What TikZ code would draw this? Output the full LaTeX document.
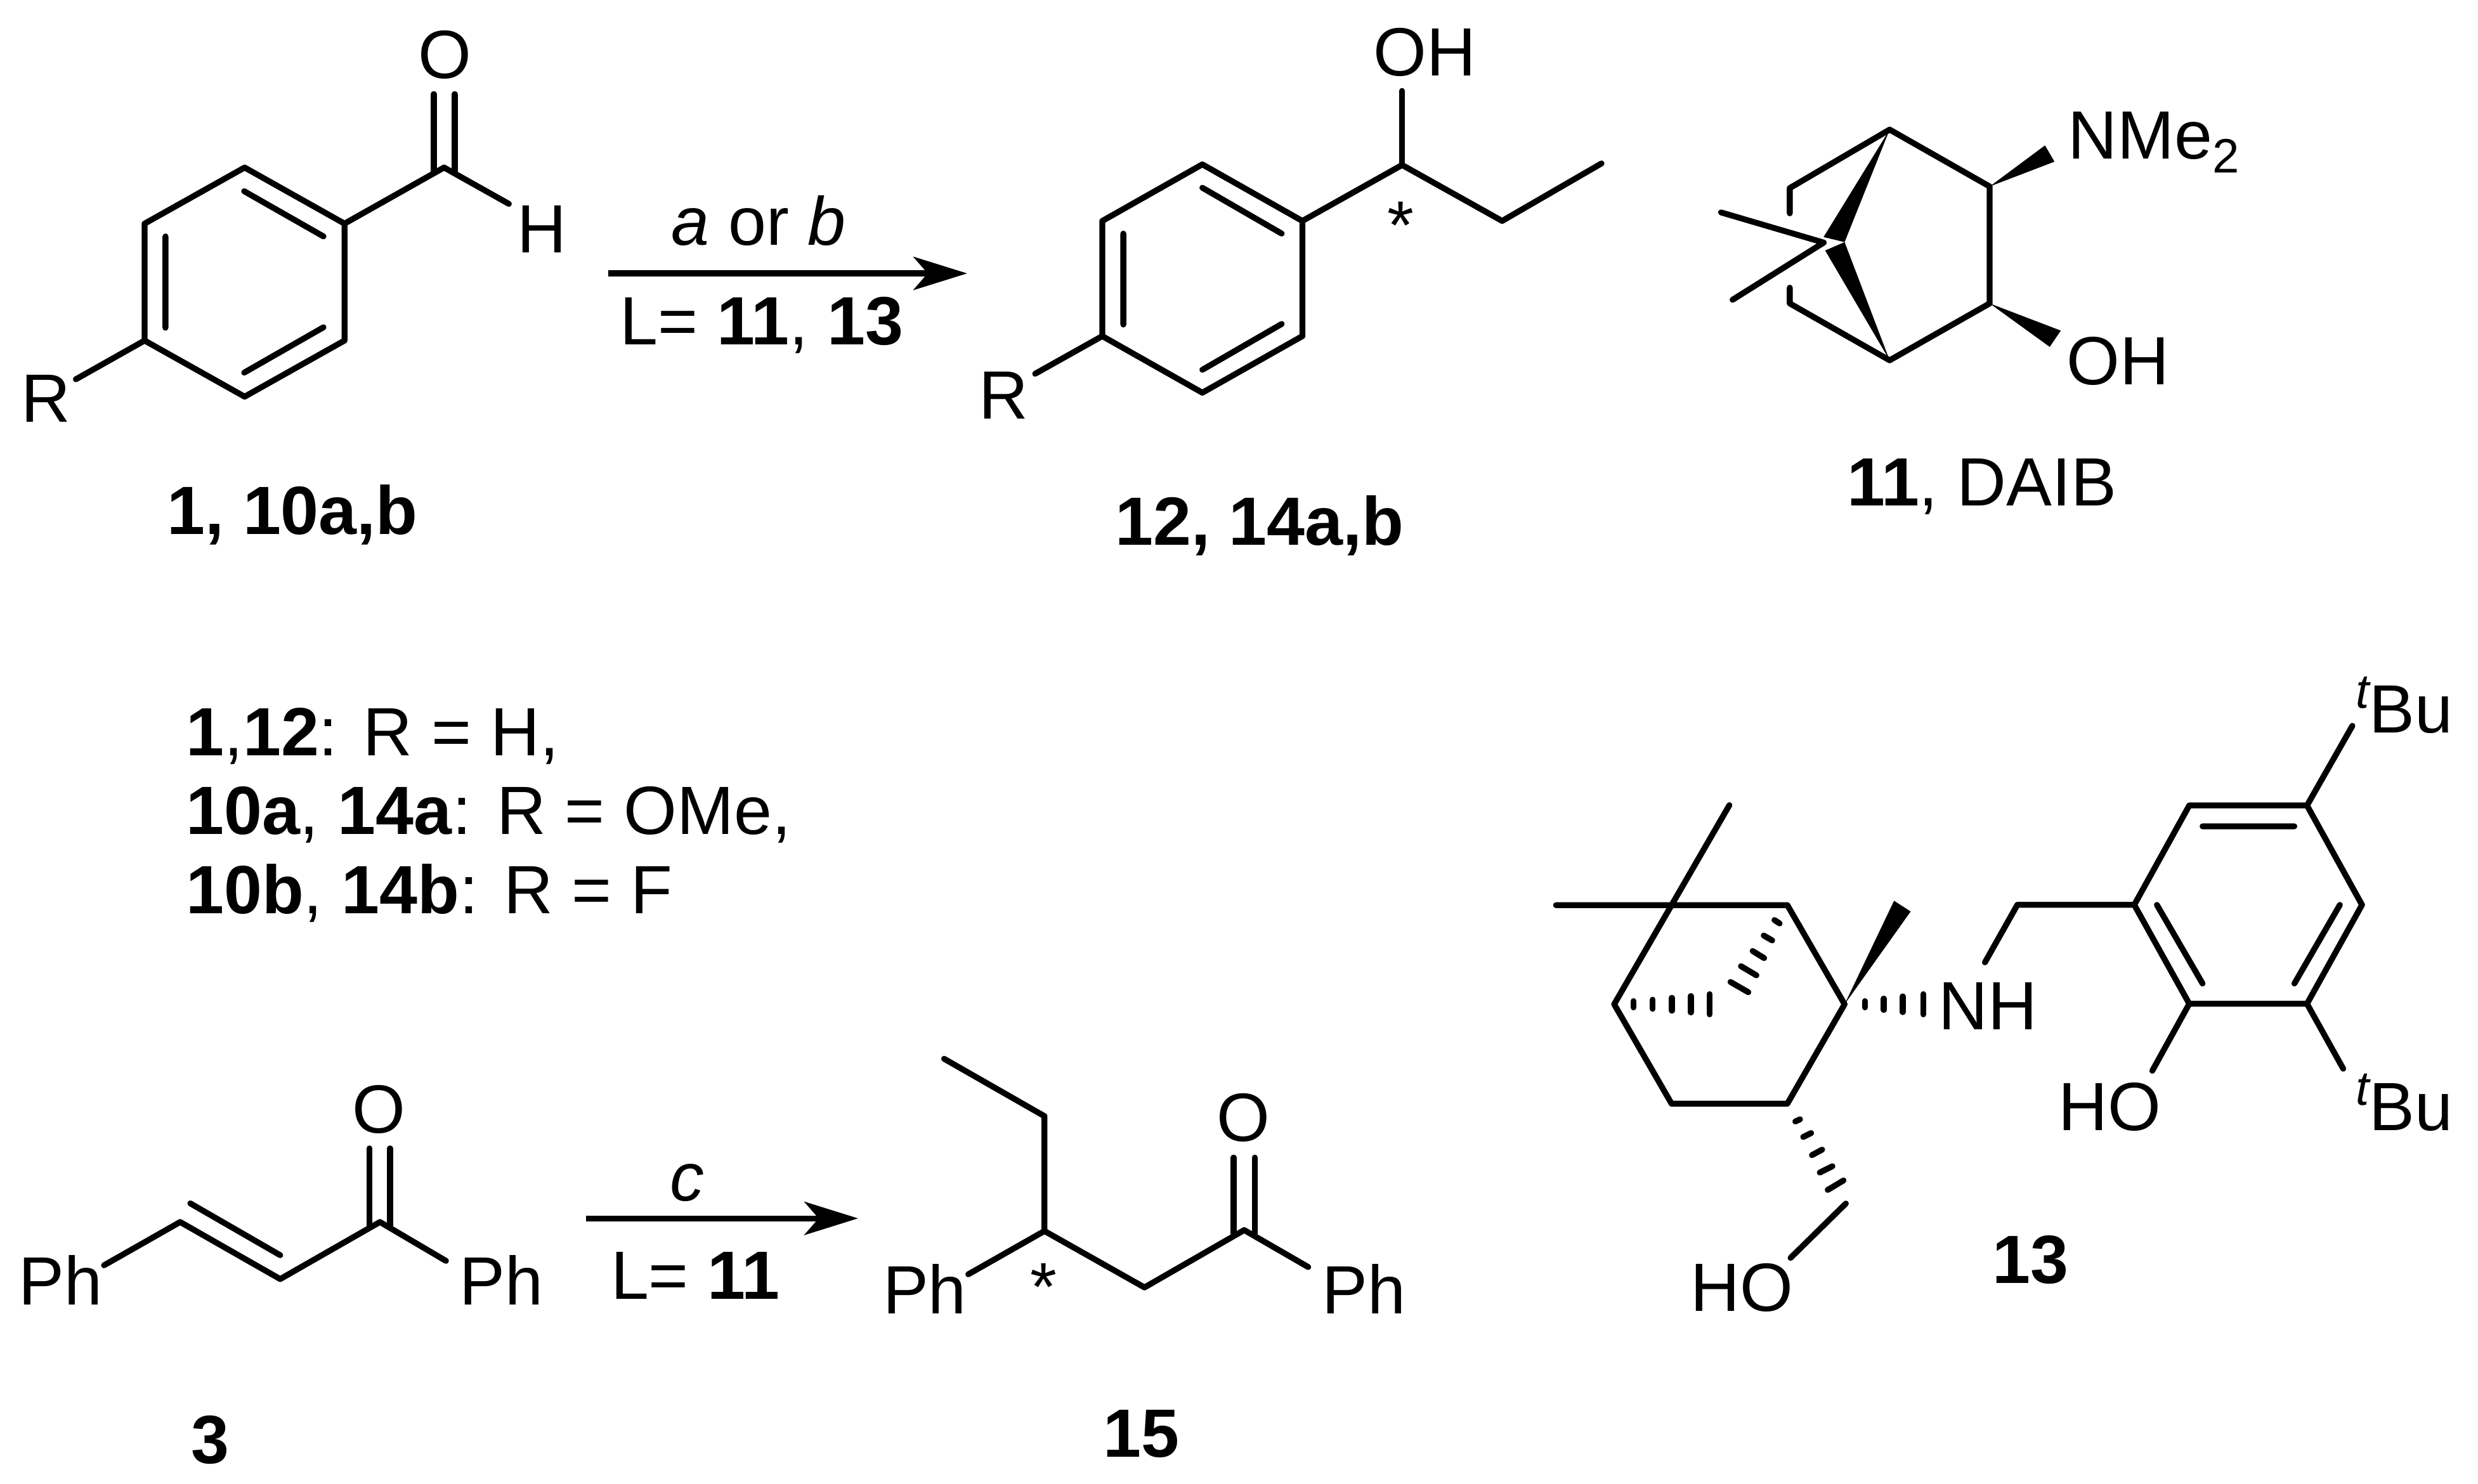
\documentclass[tikz,border=0pt]{standalone}
\usepackage{fontspec}
\setmainfont{Liberation Sans}
\usetikzlibrary{arrows.meta}
\newcommand{\tbutyl}{\raisebox{1.6mm}{\fontsize{8.7}{10}\selectfont\itshape t}Bu}
\tikzset{
	bond/.style={line width=1.06pt, line cap=round, line join=round},
	hash/.style={line width=1.06pt, line cap=round},
	atom/.style={inner sep=0pt, anchor=base, font=\fontsize{12.3}{14}\selectfont},
	rxn/.style={line width=1.06pt, -{Stealth[length=3.4mm,width=2.1mm,inset=0.9mm]}}
}
\begin{document}
\begin{tikzpicture}[x=0.1mm,y=-0.1mm]
	\useasboundingbox (0,0) rectangle (1568,939);
	% Aldehyd
	\draw[bond] (154.8,106) -- (218,141.5) -- (218,215.5) -- (154.8,251) -- (91.5,215.5) -- (91.5,141.5) -- cycle;
	\draw[bond] (154.5,121) -- (204.7,149.6) (204.7,207.1) -- (154.5,235.8) (104.7,149.6) -- (104.7,207.4);
	\draw[bond] (218,141.5) -- (281,106) -- (322,129);
	\draw[bond] (274.5,109) -- (274.5,59.5) (287.7,109) -- (287.7,59.5);
	\draw[bond] (91.5,215.5) -- (48,240);
	\node[atom] (oA) at (281.5,49.5) {O};
	\node[atom] (hA) at (343,160) {H};
	\node[atom] (rA) at (29,267) {R};
	\node[atom] (labA) at (185,338) {\textbf{1, 10a,b}};
	% Reaktion oben
	\coordinate (arA) at (385,173);
	\coordinate (arB) at (612,173);
	\draw[rxn] (arA) -- (arB);
	\node[atom] (condA) at (480,155) {\textit{a} or \textit{b}};
	\node[atom] (condB) at (482,218) {L= \textbf{11}, \textbf{13}};
	% Alkohol
	\draw[bond] (760.8,104) -- (824.1,139.8) -- (824.1,212.7) -- (760.8,248.5) -- (697.5,212.7) -- (697.5,139.8) -- cycle;
	\draw[bond] (760.8,118.8) -- (811,147.8) (811,205) -- (760.8,234) (710.8,147.8) -- (710.8,205.4);
	\draw[bond] (824.1,139.8) -- (887.2,104.4) -- (950.5,139.8) -- (1013.4,103.4);
	\draw[bond] (887.2,104.4) -- (887.2,57.5);
	\draw[bond] (697.5,212.7) -- (655,236.5);
	\node[atom] (ohA) at (901.6,47.8) {OH};
	\node[atom] (starA) at (886.5,157.5) {*};
	\node[atom] (rB) at (635,265) {R};
	\node[atom] (labB) at (797,345) {\textbf{12, 14a,b}};
	% DAIB
	\draw[bond] (1132.5,135) -- (1132.5,119) -- (1195.7,82) -- (1259,118) -- (1259,192) -- (1195.7,228) -- (1132.5,192) -- (1132.5,182);
	\fill (1195.7,82) -- (1153.9,150) -- (1167.2,153.2) -- cycle;
	\fill (1195.7,228) -- (1154.9,158.5) -- (1167.2,153.2) -- cycle;
	\draw[bond] (1089,134.4) -- (1154,153.5) -- (1096.3,189.7);
	\fill (1259,118) -- (1294,92) -- (1300,102.3) -- cycle;
	\fill (1259,192) -- (1304,209.2) -- (1297,219.5) -- cycle;
	\node[atom, anchor=base west] (nme) at (1308,100.5) {NMe\raisebox{-0.9mm}{\fontsize{8.7}{10}\selectfont 2}};
	\node[atom, anchor=base west] (ohB) at (1307,243.5) {OH};
	\node[atom] (labC) at (1254,320) {\textbf{11}, DAIB};
	% Legende
	\node[atom, anchor=base west] (lineA) at (117,478) {\textbf{1},\textbf{12}: R = H,};
	\node[atom, anchor=base west] (lineB) at (117,528) {\textbf{10a}, \textbf{14a}: R = OMe,};
	\node[atom, anchor=base west] (lineC) at (117,578) {\textbf{10b}, \textbf{14b}: R = F};
	% Ligand 13
	\draw[bond] (1057.7,572.8) -- (1131,572.8) -- (1167.2,635.5) -- (1131,698.4) -- (1057.7,698.4) -- (1021.4,635.5) -- cycle;
	\draw[bond] (1094.3,509.5) -- (1057.7,572.8) -- (984.6,572.8);
	\fill (1167.2,635.5) -- (1198.5,570) -- (1209,576.8) -- cycle;
	\foreach \px/\ph in {1033.7/2,1045.8/2.9,1057.9/4.1,1069.9/5.2,1081.8/6.4}
		\draw[hash] (\px,635.5-\ph) -- (\px,635.5+\ph);
	\foreach \px/\ph in {1180/2,1192/3.6,1204/5,1217/6.4}
		\draw[hash] (\px,635.5-\ph) -- (\px,635.5+\ph);
	\draw[hash] (1095,621.4) -- (1106.3,627.9) (1101.6,611.4) -- (1111.4,617.2) (1109,601.8) -- (1116.3,606.3) (1116,592) -- (1121.4,595.1) (1122.8,582.2) -- (1126.1,584.4);
	\draw[hash] (1136,709.7) -- (1139,708.3) (1141,719.5) -- (1146,717) (1146.5,731) -- (1153,727.5) (1151.5,742) -- (1159.5,738) (1156.5,753) -- (1166.5,747);
	\draw[bond] (1168,761.6) -- (1133,796);
	\node[atom, anchor=base west] (hoA) at (1069,829.6) {HO};
	\node[atom, anchor=base west] (nh) at (1226,651.7) {NH};
	\draw[bond] (1256,609) -- (1276.5,572.6) -- (1350.5,572.6);
	% Phenolring
	\draw[bond] (1350.5,572.6) -- (1385.3,509.7) -- (1459.8,509.7) -- (1494.6,572.6) -- (1459.8,635.2) -- (1385.3,635.2) -- cycle;
	\draw[bond] (1393.7,522.9) -- (1451.8,522.9) (1364.8,572.6) -- (1393.7,622.4) (1480.6,572.6) -- (1451.8,622.4);
	\draw[bond] (1459.8,509.7) -- (1488.5,459.3);
	\draw[bond] (1459.8,635.2) -- (1482.7,676.3);
	\draw[bond] (1385.3,635.2) -- (1361.9,677.6);
	\node[atom, anchor=base west] (tbuA) at (1490,463.9) {\tbutyl};
	\node[atom, anchor=base west] (tbuB) at (1490,715.3) {\tbutyl};
	\node[atom, anchor=base west] (hoB) at (1302,715.3) {HO};
	\node[atom] (labD) at (1285,812) {\textbf{13}};
	% Chalkon
	\draw[bond] (65.8,800.7) -- (114,773.3) -- (177.3,809.4) -- (240.4,773.3) -- (282.2,797.9);
	\draw[bond] (120.4,761.5) -- (177.3,794.3);
	\draw[bond] (233.8,776) -- (233.8,726.7) (246.8,776) -- (246.8,726.7);
	\node[atom] (oB) at (239.9,717) {O};
	\node[atom, anchor=base west] (phA) at (11,825.8) {Ph};
	\node[atom, anchor=base west] (phB) at (290,825.8) {Ph};
	\node[atom] (labE) at (133,926) {\textbf{3}};
	% Reaktion unten
	\coordinate (arC) at (371,771);
	\coordinate (arD) at (543,771);
	\draw[rxn] (arC) -- (arD);
	\node[atom] (condC) at (435,760) {\textit{c}};
	\node[atom] (condD) at (440,822) {L= \textbf{11}};
	% Keton 15
	\draw[bond] (612.7,806.4) -- (660.9,779) -- (724.2,814.7) -- (787.3,778.4) -- (827.8,801.8);
	\draw[bond] (660.9,779) -- (660.9,706.3) -- (597.4,670);
	\draw[bond] (780.6,781) -- (780.6,732.5) (793.9,781) -- (793.9,732.5);
	\node[atom] (oC) at (786.6,722.3) {O};
	\node[atom, anchor=base west] (phC) at (558,831.5) {Ph};
	\node[atom, anchor=base west] (phD) at (836,831.5) {Ph};
	\node[atom] (starB) at (660.2,829.5) {*};
	\node[atom] (labF) at (722,922) {\textbf{15}};
\end{tikzpicture}
\end{document}
